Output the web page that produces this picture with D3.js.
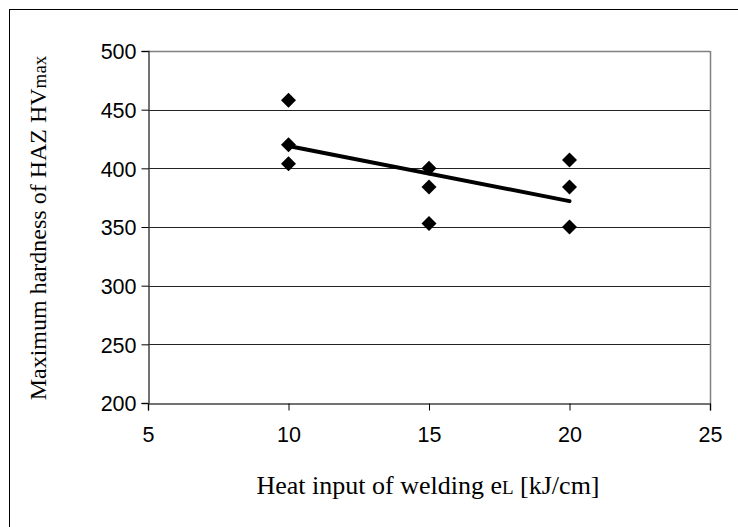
<!DOCTYPE html>
<html><head><meta charset="utf-8">
<script src="https://cdn.jsdelivr.net/npm/d3@7"></script>
<style>body{margin:0;background:#fff}svg{display:block}</style>
</head><body>
<script>
const heatInput = [10, 10, 10, 15, 15, 15, 20, 20, 20];
const hardness  = [458, 420, 404, 400, 384, 353, 407, 384, 350];
const xTicks = [5, 10, 15, 20, 25];
const yTicks = [200, 250, 300, 350, 400, 450, 500];

const W = 738, H = 527;
const m = {left: 148, right: 710, top: 51, bottom: 403};
const svg = d3.select("body").append("svg").attr("width", W).attr("height", H);

// outer frame
svg.append("rect").attr("x", 9.5).attr("y", 9.5).attr("width", W + 20).attr("height", H + 20)
  .attr("fill", "#fff").attr("stroke", "#000").attr("stroke-width", 1);

const x = d3.scaleLinear().domain([5, 25]).range([m.left, m.right]);
const y = d3.scaleLinear().domain([200, 500]).range([m.bottom, m.top]);

// gridlines
svg.append("g").selectAll("line").data(yTicks.filter(d => d > 200)).join("line")
  .attr("x1", m.left).attr("x2", m.right)
  .attr("y1", d => Math.round(y(d)) + 0.5).attr("y2", d => Math.round(y(d)) + 0.5)
  .attr("stroke", d => d === 500 ? "#808080" : "#222").attr("stroke-width", d => d === 500 ? 1.5 : 1);

// right border
svg.append("line").attr("x1", m.right + 0.5).attr("x2", m.right + 0.5)
  .attr("y1", m.top).attr("y2", m.bottom).attr("stroke", "#808080").attr("stroke-width", 1.5);

const fmt = d3.format("d");
const yAxis = svg.append("g").attr("transform", `translate(${m.left + 0.5},0)`)
  .call(d3.axisLeft(y).tickValues(yTicks).tickSize(7).tickPadding(5).tickFormat(fmt));
const xAxis = svg.append("g").attr("transform", `translate(0,${m.bottom + 0.5})`)
  .call(d3.axisBottom(x).tickValues(xTicks).tickSize(7).tickPadding(16).tickFormat(fmt));
[yAxis, xAxis].forEach(g => {
  g.select(".domain").attr("stroke", "#444").attr("stroke-width", 1.5);
  g.selectAll(".tick line").attr("stroke", "#000");
  g.selectAll(".tick text").attr("fill", "#000")
    .style("font-family", "Arial, 'Liberation Sans', sans-serif").style("font-size", "21.5px");
});
yAxis.selectAll(".tick text").attr("dy", "0.36em");

// regression trend line
const mx = d3.mean(heatInput), my = d3.mean(hardness);
const slope = d3.sum(heatInput.map((v, i) => (v - mx) * (hardness[i] - my))) /
              d3.sum(heatInput.map(v => (v - mx) ** 2));
const intercept = my - slope * mx;
const xExt = d3.extent(heatInput);
svg.append("line")
  .attr("x1", x(xExt[0])).attr("y1", y(intercept + slope * xExt[0]))
  .attr("x2", x(xExt[1])).attr("y2", y(intercept + slope * xExt[1]))
  .attr("stroke", "#000").attr("stroke-width", 4).attr("stroke-linecap", "round");

// diamond markers
const dsize = 7.5;
svg.append("g").selectAll("path").data(heatInput.map((v, i) => [v, hardness[i]])).join("path")
  .attr("d", d => {
    const cx = x(d[0]), cy = y(d[1]);
    return `M${cx},${cy - dsize}L${cx + dsize},${cy}L${cx},${cy + dsize}L${cx - dsize},${cy}Z`;
  })
  .attr("fill", "#000");

// axis titles
const serif = "'Liberation Serif', 'Times New Roman', serif";
const xt = svg.append("text").attr("x", 428).attr("y", 494).attr("text-anchor", "middle")
  .style("font-family", serif).style("font-size", "26px").attr("fill", "#000");
xt.append("tspan").text("Heat input of welding e");
xt.append("tspan").style("font-size", "19px").text("L");
xt.append("tspan").text(" [kJ/cm]");

const yt = svg.append("text").attr("transform", `translate(46,228) rotate(-90)`)
  .attr("text-anchor", "middle")
  .style("font-family", serif).style("font-size", "24px").attr("fill", "#000");
yt.append("tspan").text("Maximum hardness of HAZ HV");
yt.append("tspan").style("font-size", "19px").text("max");
</script>
</body></html>
